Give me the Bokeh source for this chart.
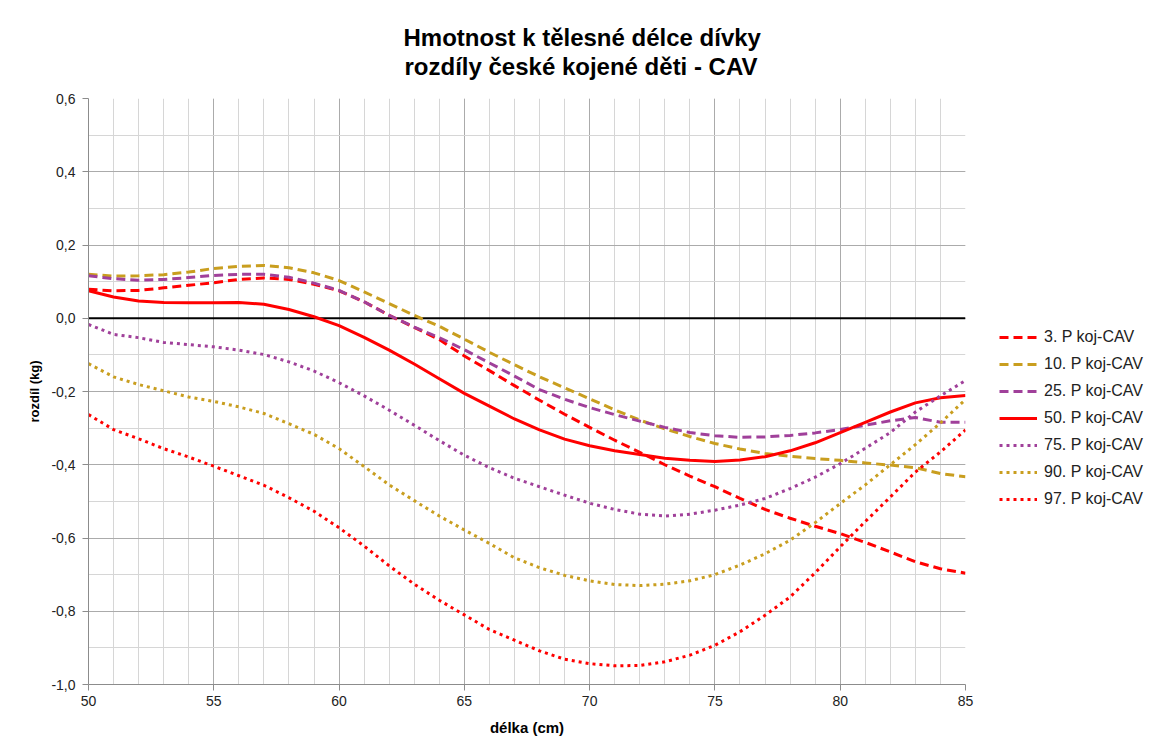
from bokeh.plotting import figure
from bokeh.layouts import row
from bokeh.models import Range1d, FixedTicker, Span, Legend, LegendItem, Title
from bokeh.embed import file_html
from bokeh.resources import INLINE

# ---------------- data ----------------
length_cm = list(range(50, 86))

p3 = [0.079, 0.075, 0.076, 0.083, 0.090, 0.097, 0.106, 0.110, 0.106, 0.093,
      0.075, 0.045, 0.008, -0.025, -0.058, -0.103, -0.143, -0.184, -0.224, -0.262,
      -0.298, -0.333, -0.366, -0.400, -0.431, -0.460, -0.492, -0.522, -0.546, -0.568,
      -0.588, -0.612, -0.638, -0.665, -0.684, -0.696]

p10 = [0.120, 0.115, 0.116, 0.119, 0.126, 0.136, 0.142, 0.144, 0.138, 0.124,
       0.103, 0.072, 0.040, 0.008, -0.022, -0.057, -0.093, -0.127, -0.160, -0.190,
       -0.220, -0.250, -0.278, -0.302, -0.323, -0.342, -0.357, -0.369, -0.377, -0.383,
       -0.388, -0.395, -0.401, -0.408, -0.424, -0.433]

p25 = [0.116, 0.108, 0.104, 0.106, 0.111, 0.117, 0.120, 0.120, 0.112, 0.096,
       0.076, 0.045, 0.008, -0.024, -0.053, -0.086, -0.122, -0.158, -0.195, -0.221,
       -0.244, -0.263, -0.281, -0.298, -0.312, -0.321, -0.325, -0.324, -0.320, -0.313,
       -0.304, -0.292, -0.280, -0.271, -0.284, -0.284]

p50 = [0.075, 0.058, 0.047, 0.043, 0.042, 0.042, 0.043, 0.038, 0.024, 0.004,
       -0.020, -0.052, -0.087, -0.125, -0.165, -0.205, -0.240, -0.275, -0.305, -0.330,
       -0.348, -0.362, -0.372, -0.382, -0.388, -0.391, -0.387, -0.378, -0.362, -0.340,
       -0.312, -0.284, -0.256, -0.231, -0.217, -0.211]

p75 = [-0.017, -0.044, -0.053, -0.066, -0.072, -0.078, -0.087, -0.099, -0.119, -0.144,
       -0.176, -0.212, -0.251, -0.292, -0.334, -0.374, -0.408, -0.437, -0.460, -0.483,
       -0.505, -0.522, -0.535, -0.540, -0.535, -0.524, -0.510, -0.492, -0.465, -0.434,
       -0.397, -0.355, -0.312, -0.256, -0.212, -0.170]

p90 = [-0.124, -0.160, -0.181, -0.198, -0.215, -0.227, -0.242, -0.260, -0.288, -0.317,
       -0.356, -0.405, -0.455, -0.498, -0.540, -0.578, -0.615, -0.654, -0.681, -0.702,
       -0.717, -0.727, -0.730, -0.726, -0.717, -0.700, -0.674, -0.643, -0.606, -0.558,
       -0.506, -0.455, -0.400, -0.345, -0.286, -0.222]

p97 = [-0.263, -0.304, -0.329, -0.356, -0.379, -0.404, -0.430, -0.456, -0.490, -0.527,
       -0.572, -0.622, -0.676, -0.726, -0.770, -0.810, -0.850, -0.879, -0.908, -0.931,
       -0.943, -0.949, -0.948, -0.938, -0.920, -0.893, -0.856, -0.811, -0.761, -0.695,
       -0.624, -0.555, -0.488, -0.420, -0.365, -0.305]

series_values = [p3, p10, p25, p50, p75, p90, p97]
series_labels = ["3. P koj-CAV", "10. P koj-CAV", "25. P koj-CAV", "50. P koj-CAV",
                 "75. P koj-CAV", "90. P koj-CAV", "97. P koj-CAV"]

x_ticks = [50, 55, 60, 65, 70, 75, 80, 85]
x_minor = list(range(50, 86))
y_ticks = [-1.0, -0.8, -0.6, -0.4, -0.2, 0.0, 0.2, 0.4, 0.6]
y_tick_labels = ["-1,0", "-0,8", "-0,6", "-0,4", "-0,2", "0,0", "0,2", "0,4", "0,6"]
y_minor = [-1.0, -0.9, -0.8, -0.7, -0.6, -0.5, -0.4, -0.3, -0.2, -0.1,
           0.0, 0.1, 0.2, 0.3, 0.4, 0.5, 0.6]

title_lines = ["Hmotnost k tělesné délce dívky", "rozdíly  české kojené děti - CAV"]
x_label = "délka (cm)"
y_label = "rozdíl (kg)"

# ---------------- styles ----------------
RED = "#FF0000"
GOLD = "#C99E1F"
PURPLE = "#A0409A"
series_colors = [RED, GOLD, PURPLE, RED, PURPLE, GOLD, RED]
series_dash = ["9 5", "9 5", "9 5", "solid", "3 4", "3 4", "3 4"]
FONT = "Liberation Sans"

H = 745
ML, MR, MT, MB = 88, 12, 98, 61
W_MAIN = 88 + 877 + MR
W_LEG = 168

p = figure(width=W_MAIN, height=H, output_backend="svg", toolbar_location=None,
           x_range=Range1d(50, 85), y_range=Range1d(-1.0, 0.6),
           min_border_left=ML, min_border_right=MR,
           min_border_top=MT, min_border_bottom=MB,
           background_fill_color="white", border_fill_color="white")
p.outline_line_color = None

xt = FixedTicker(ticks=x_ticks, minor_ticks=x_minor)
yt = FixedTicker(ticks=y_ticks, minor_ticks=y_minor)
p.xaxis.ticker = xt
p.yaxis.ticker = yt
p.xgrid.ticker = xt
p.ygrid.ticker = yt

for g in (p.xgrid, p.ygrid):
    g.grid_line_color = "#ABABAB"
    g.grid_line_width = 1
    g.minor_grid_line_color = "#D6D6D6"
    g.minor_grid_line_width = 1

p.yaxis.major_label_overrides = {t: l for t, l in zip(y_ticks, y_tick_labels)}

for ax in (p.xaxis, p.yaxis):
    ax.axis_line_color = "#8C8C8C"
    ax.major_tick_line_color = "#8C8C8C"
    ax.major_tick_out = 6
    ax.major_tick_in = 0
    ax.minor_tick_out = 0
    ax.minor_tick_in = 0
    ax.major_label_text_font = FONT
    ax.major_label_text_font_size = "14px"
    ax.major_label_text_color = "#222222"
    ax.axis_label_text_font = FONT
    ax.axis_label_text_font_style = "bold"
    ax.axis_label_text_color = "#000000"

p.xaxis.axis_label = x_label
p.xaxis.axis_label_text_font_size = "15px"
p.xaxis.major_label_standoff = 5
p.xaxis.axis_label_standoff = 10
p.yaxis.axis_label = y_label
p.yaxis.axis_label_text_font_size = "13px"
p.yaxis.major_label_standoff = 7
p.yaxis.axis_label_standoff = 6

zero = Span(location=0, dimension="width", line_color="black", line_width=2, level="underlay")
p.add_layout(zero)

for vals, col, dash in zip(series_values, series_colors, series_dash):
    p.line(length_cm, vals, line_color=col, line_width=3, line_dash=dash, line_join="round")

# title: spacer first (closest to the frame), then line 2, then line 1
spacer = Title(text=" ", text_font_size="2px", standoff=15)
t2 = Title(text=title_lines[1], align="left", offset=316, standoff=0,
           text_font=FONT, text_font_style="bold", text_font_size="24px",
           text_color="#000000")
t1 = Title(text=title_lines[0], align="left", offset=315, standoff=0,
           text_font=FONT, text_font_style="bold", text_font_size="24px",
           text_color="#000000")
p.add_layout(spacer, "above")
p.add_layout(t2, "above")
p.add_layout(t1, "above")

# legend in a side figure of its own (sample lines lie outside its visible range)
leg = figure(width=W_LEG, height=H, output_backend="svg", toolbar_location=None,
             x_axis_type=None, y_axis_type=None, min_border=0,
             x_range=Range1d(0, 1), y_range=Range1d(0, 1),
             background_fill_color="white", border_fill_color="white")
leg.outline_line_color = None
leg.xgrid.visible = False
leg.ygrid.visible = False
items = []
for lab, col, dash in zip(series_labels, series_colors, series_dash):
    r = leg.line([5, 6], [5, 6], line_color=col, line_width=3, line_dash=dash)
    items.append(LegendItem(label=lab, renderers=[r]))
legend = Legend(items=items, location=(22, 175), orientation="vertical",
                glyph_width=38, glyph_height=20, label_height=20, spacing=7,
                padding=0, margin=0, label_standoff=7,
                border_line_color=None, background_fill_alpha=0,
                label_text_font=FONT, label_text_font_size="16px",
                label_text_color="#222222")
leg.add_layout(legend)

layout = row(p, leg, spacing=0)
open("out.html", "w").write(file_html(layout, INLINE))
